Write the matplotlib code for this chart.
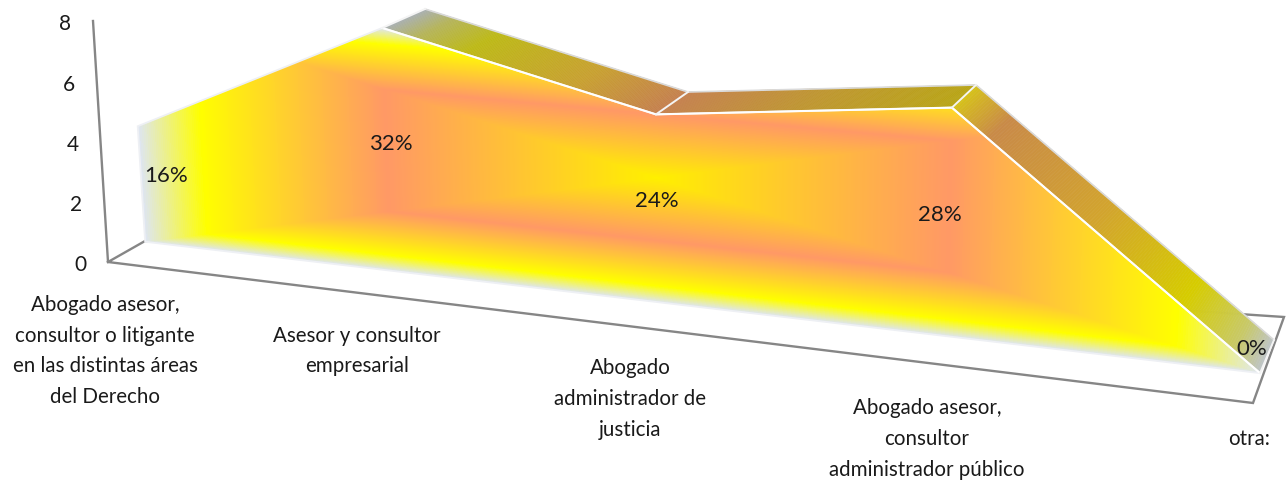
import numpy as np
import matplotlib
matplotlib.use('Agg')
import matplotlib.pyplot as plt
from matplotlib.collections import PolyCollection
from matplotlib.colors import LinearSegmentedColormap, to_rgb
from matplotlib.patches import Polygon

plt.rcParams['font.family'] = ['Lato', 'DejaVu Sans']

categories = ['Abogado asesor,\nconsultor o litigante\nen las distintas áreas\ndel Derecho',
              'Asesor y consultor\nempresarial',
              'Abogado\nadministrador de\njusticia',
              'Abogado asesor,\nconsultor\nadministrador público',
              'otra:']
cat_pos = [0, 1, 2, 3, 4]
values = [4, 8, 6, 7, 0]
percent_labels = ['16%', '32%', '24%', '28%', '0%']
y_ticks = [0, 2, 4, 6, 8]

W, H = 1286, 481

# the chart is a perspective view, so category/value go through a homography
# calibrated on where the corners of the area sit in the picture
front_uv = [(0, 0), (0, 4), (1, 8), (2, 6), (3, 7), (4, 0)]
front_px = [(145, 243), (138, 127), (382, 29), (656, 115), (952, 109), (1260, 374)]
back_uv = [(1, 8), (2, 6), (3, 7), (4, 0)]
back_px = [(425, 10), (688, 93), (976, 86), (1274, 341)]


def fit_plane(uv, px):
    rows = []
    for (u, v), (x, y) in zip(uv, px):
        rows.append([u, v, 1, 0, 0, 0, -x * u, -x * v, -x])
        rows.append([0, 0, 0, u, v, 1, -y * u, -y * v, -y])
    return np.linalg.svd(np.array(rows, dtype=float))[2][-1].reshape(3, 3)


def project(m, u, v):
    u, v = np.asarray(u, dtype=float), np.asarray(v, dtype=float)
    w = m[2, 0] * u + m[2, 1] * v + m[2, 2]
    return (m[0, 0] * u + m[0, 1] * v + m[0, 2]) / w, (m[1, 0] * u + m[1, 1] * v + m[1, 2]) / w


front = fit_plane(front_uv, front_px)
back = fit_plane(back_uv, back_px)

fig = plt.figure(figsize=(W / 100, H / 100), dpi=100)
ax = fig.add_axes([0, 0, 1, 1])

# walls and floor
axis_col = '#868686'
ax.plot([93, 108, 1253, 1284, 145, 108], [22, 263, 404, 318, 242, 263], color=axis_col, lw=1.7,
        solid_joinstyle='miter', zorder=1)

# top ribbon, colour runs along the category position
ribbon_stops = [(1.0, '#A8AFB5'), (1.12, '#B5B45A'), (1.3, '#BDB915'), (1.7, '#C8A030'), (2.0, '#C5804E'),
                (2.001, '#C5804E'), (2.5, '#BF9630'), (3.0, '#B9A515'),
                (3.001, '#D6C21A'), (3.12, '#C98A48'), (3.45, '#D2A42E'), (3.75, '#D6CC00'),
                (3.92, '#C8C96A'), (4.0, '#BEC4C8')]
stop_x = [s[0] for s in ribbon_stops]
stop_c = np.array([to_rgb(s[1]) for s in ribbon_stops])
quads, quad_cols = [], []
for a, b in zip(cat_pos[1:-1], cat_pos[2:]):
    edges = np.linspace(a, b, 161)
    vals = np.interp(edges, cat_pos, values)
    fx, fy = project(front, edges, vals)
    bx, by = project(back, edges, vals)
    for i in range(len(edges) - 1):
        quads.append([(fx[i], fy[i]), (fx[i + 1], fy[i + 1]), (bx[i + 1], by[i + 1]), (bx[i], by[i])])
        mid = (edges[i] + edges[i + 1]) / 2
        quad_cols.append([np.interp(mid, stop_x, stop_c[:, k]) for k in range(3)])
ax.add_collection(PolyCollection(quads, facecolors=quad_cols, edgecolors=quad_cols, linewidths=0.4, zorder=2))

# front face, rectangular path gradient in chart coordinates
fire = LinearSegmentedColormap.from_list('fire', [(0.0, '#FFF000'), (0.5, '#FF9966'), (0.87, '#FFFF00'),
                                                  (1.0, '#DFE6F0')])
px, py = np.meshgrid(np.arange(W) + 0.5, np.arange(H) + 0.5)
cu, cv = project(np.linalg.inv(front), px, py)
dist = np.maximum(np.abs(cu - 2) / 2, np.abs(cv - 4) / 4)
outline_x, outline_y = project(front, [0] + cat_pos + [0], [0] + values + [0])
outline = list(zip(outline_x, outline_y))
img = ax.imshow(fire(np.clip(dist, 0, 1)), extent=(0, W, H, 0), aspect='auto', interpolation='bilinear', zorder=3)
face = Polygon(outline, closed=True, facecolor='none', edgecolor='#EEF0F4', lw=1.3, zorder=4)
ax.add_patch(face)
img.set_clip_path(face)

# white edges of the ribbon
edge_col = '#F4F4F4'
tx, ty = project(front, cat_pos[1:], values[1:])
ux, uy = project(back, cat_pos[1:], values[1:])
ax.plot(tx, ty, color='white', lw=1.5, zorder=5)
ax.plot(ux, uy, color='#DADADA', lw=1.2, zorder=5)
for x0, y0, x1, y1 in zip(tx, ty, ux, uy):
    ax.plot([x0, x1], [y0, y1], color=edge_col, lw=1.4, zorder=5)

# tick labels follow the wall axis
for t in y_ticks:
    ax.text(108 - 15 * t / 8 - 28, 265.5 - 241 * t / 8, str(t), fontsize=15, color='#1a1a1a', ha='center',
            va='center')

cat_label_xy = [(105, 351), (357, 351), (630, 399), (927, 439), (1249, 439)]
for label, (x, y) in zip(categories, cat_label_xy):
    ax.text(x, y, label, fontsize=14.8, color='#1a1a1a', ha='center', va='center', linespacing=1.67, zorder=6)

pct_label_xy = [(166, 176), (391, 144), (657, 201), (940, 215), (1252, 349)]
for label, (x, y) in zip(percent_labels, pct_label_xy):
    ax.text(x, y, label, fontsize=16, color='#1a1a1a', ha='center', va='center', zorder=6)

ax.set_xlim(0, W)
ax.set_ylim(H, 0)
ax.axis('off')
fig.savefig('out.png', dpi=100, facecolor='white')
